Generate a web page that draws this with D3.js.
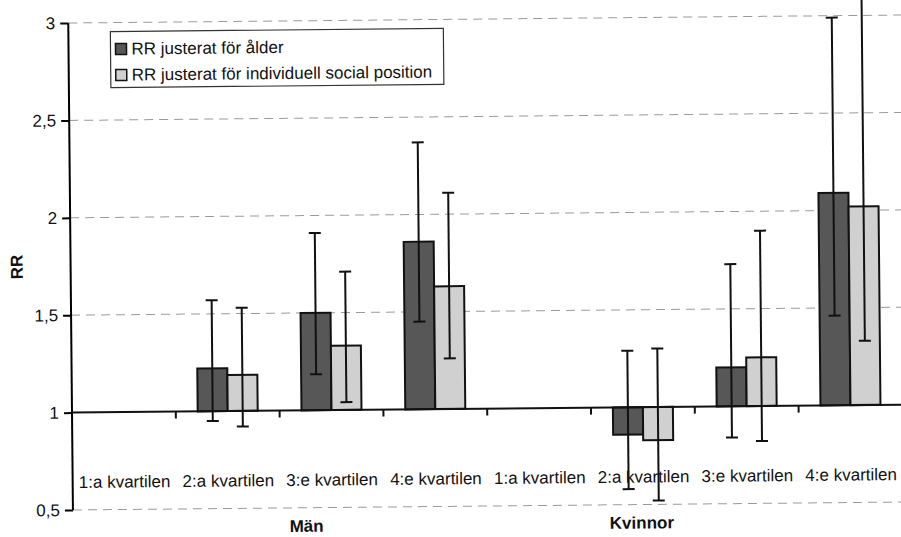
<!DOCTYPE html>
<html>
<head>
<meta charset="utf-8">
<script src="https://cdn.jsdelivr.net/npm/d3@7"></script>
<style>
  html, body { margin: 0; padding: 0; background: #fff; }
  svg { display: block; font-family: "Liberation Sans", Arial, sans-serif; }
</style>
</head>
<body>
<div id="chart"></div>
<script>
// RR per kvartil, män och kvinnor

const groups = ['Män', 'Kvinnor']
const quartiles = ['1:a kvartilen', '2:a kvartilen', '3:e kvartilen', '4:e kvartilen']
const seriesNames = ['RR justerat för ålder', 'RR justerat för individuell social position']

// one value per category: Män 1-4, Kvinnor 1-4 (null = reference group, no bar)
const rrAlder = [null, 1.22, 1.50, 1.86, null, 0.86, 1.20, 2.09]
const rrAlderLo = [null, 0.95, 1.185, 1.45, null, 0.58, 0.84, 1.46]
const rrAlderHi = [null, 1.57, 1.91, 2.37, null, 1.29, 1.73, 2.99]

const rrSocial = [null, 1.185, 1.33, 1.63, null, 0.83, 1.25, 2.02]
const rrSocialLo = [null, 0.92, 1.04, 1.26, null, 0.52, 0.82, 1.33]
const rrSocialHi = [null, 1.53, 1.71, 2.11, null, 1.30, 1.90, 3.15]

const yTicks = [0.5, 1, 1.5, 2, 2.5, 3]

const width = 901
const height = 537

const categories = groups.flatMap(g => quartiles.map(q => g + '|' + q))

const svg = d3.select('#chart')
  .append('svg')
  .attr('width', width)
  .attr('height', height)

const left = 72
const x = d3.scaleBand().domain(categories).range([left, left + 103.8 * 8]).padding(0)
const y = d3.scaleLinear().domain([0.5, 3]).range([510, 23])
const x1 = d3.scaleBand().domain([0, 1]).range([0, x.bandwidth()]).paddingInner(0).paddingOuter(0.73)

// the scan is slightly tilted
const g = svg.append('g')
  .attr('transform', `rotate(-0.55, ${left}, ${y(1)})`)

// dashed gridlines
g.append('g')
  .selectAll('line')
  .data(yTicks.filter(t => t !== 1))
  .join('line')
  .attr('x1', left)
  .attr('x2', width + 20)
  .attr('y1', d => y(d))
  .attr('y2', d => y(d))
  .attr('stroke', '#9a9a9a')
  .attr('stroke-width', 1)
  .attr('stroke-dasharray', '9,6')

// y axis
const yAxis = d3.axisLeft(y)
  .tickValues(yTicks)
  .tickSize(8)
  .tickPadding(5)
  .tickFormat(d => String(d).replace('.', ','))

g.append('g')
  .attr('transform', `translate(${left},0)`)
  .call(yAxis)
  .call(s => s.select('.domain').attr('stroke-width', 2).attr('d', `M0,${y(3)}V${y(0.5)}`))
  .call(s => s.selectAll('.tick line').attr('stroke-width', 2))
  .call(s => s.selectAll('.tick text')
    .attr('font-size', 17)
    .attr('font-family', '"Liberation Sans", Arial, sans-serif')
    .attr('fill', '#111'))

// bars
const colors = ['#575757', '#d0d0d0']
const bars = [
  { v: rrAlder, lo: rrAlderLo, hi: rrAlderHi },
  { v: rrSocial, lo: rrSocialLo, hi: rrSocialHi }
]

bars.forEach((s, si) => {
  const rows = categories
    .map((c, i) => ({ c, v: s.v[i], lo: s.lo[i], hi: s.hi[i] }))
    .filter(d => d.v != null)

  g.append('g')
    .selectAll('rect')
    .data(rows)
    .join('rect')
    .attr('x', d => x(d.c) + x1(si))
    .attr('width', x1.bandwidth())
    .attr('y', d => Math.min(y(d.v), y(1)))
    .attr('height', d => Math.abs(y(d.v) - y(1)))
    .attr('fill', colors[si])
    .attr('stroke', '#111')
    .attr('stroke-width', 2)
})

// category axis at RR = 1
g.append('line')
  .attr('x1', left)
  .attr('x2', width + 20)
  .attr('y1', y(1))
  .attr('y2', y(1))
  .attr('stroke', '#111')
  .attr('stroke-width', 2)

g.append('g')
  .selectAll('line')
  .data(categories.slice(1))
  .join('line')
  .attr('x1', d => x(d))
  .attr('x2', d => x(d))
  .attr('y1', y(1))
  .attr('y2', y(1) + 7)
  .attr('stroke', '#111')
  .attr('stroke-width', 2)

// error bars
const cap = 6
bars.forEach((s, si) => {
  const rows = categories
    .map((c, i) => ({ c, lo: s.lo[i], hi: s.hi[i] }))
    .filter(d => d.lo != null)
  const eg = g.append('g').attr('stroke', '#111').attr('stroke-width', 2)
  const cx = d => x(d.c) + x1(si) + x1.bandwidth() / 2
  eg.selectAll('.stem').data(rows).join('line')
    .attr('x1', cx).attr('x2', cx)
    .attr('y1', d => y(d.lo)).attr('y2', d => y(d.hi))
  eg.selectAll('.lo').data(rows).join('line')
    .attr('x1', d => cx(d) - cap).attr('x2', d => cx(d) + cap)
    .attr('y1', d => y(d.lo)).attr('y2', d => y(d.lo))
  eg.selectAll('.hi').data(rows.filter(d => d.hi <= 3)).join('line')
    .attr('x1', d => cx(d) - cap).attr('x2', d => cx(d) + cap)
    .attr('y1', d => y(d.hi)).attr('y2', d => y(d.hi))
})

// category labels
g.append('g')
  .selectAll('text')
  .data(categories)
  .join('text')
  .attr('x', d => x(d) + x.bandwidth() / 2)
  .attr('y', 488)
  .attr('text-anchor', 'middle')
  .attr('font-size', 17)
  .attr('fill', '#111')
  .text(d => d.split('|')[1])

// group labels (placed as in the original print)
const groupOffsets = [2.25, 1.48]
g.append('g')
  .selectAll('text')
  .data(groups)
  .join('text')
  .attr('x', (d, i) => x(d + '|' + quartiles[0]) + groupOffsets[i] * x.step())
  .attr('y', 534)
  .attr('text-anchor', 'middle')
  .attr('font-size', 17)
  .attr('font-weight', 'bold')
  .attr('fill', '#111')
  .text(d => d)

// y title
g.append('text')
  .attr('transform', `translate(24, ${y(1.75)}) rotate(-90)`)
  .attr('text-anchor', 'middle')
  .attr('font-size', 17)
  .attr('font-weight', 'bold')
  .attr('fill', '#111')
  .text('RR')

// legend
const legend = g.append('g').attr('transform', 'translate(114, 32)')
legend.append('rect')
  .attr('width', 333)
  .attr('height', 56)
  .attr('fill', '#fff')
  .attr('stroke', '#333')
  .attr('stroke-width', 1.2)

const li = legend.selectAll('.item')
  .data(seriesNames)
  .join('g')
  .attr('transform', (d, i) => `translate(5, ${12 + i * 26})`)

li.append('rect')
  .attr('width', 11)
  .attr('height', 11)
  .attr('fill', (d, i) => colors[i])
  .attr('stroke', '#111')
  .attr('stroke-width', 1.5)

li.append('text')
  .attr('x', 16)
  .attr('y', 11)
  .attr('font-size', 17)
  .attr('fill', '#111')
  .text(d => d)
</script>
</body>
</html>
